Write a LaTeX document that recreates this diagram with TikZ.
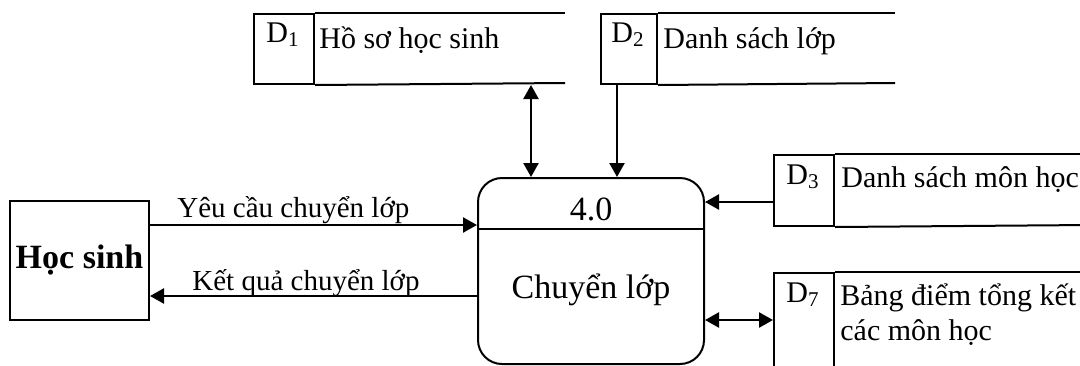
\documentclass[tikz,border=0pt]{standalone}
\usepackage{fontspec}
\setmainfont{Liberation Serif}
\usetikzlibrary{arrows.meta}

\begin{document}
\begin{tikzpicture}
[x=0.5pt,y=-0.5pt,
  boxDecorate/.style={draw,line width=1pt,inner sep=0pt},
  arrowDecorate/.style={-{Triangle[length=7pt,width=7.5pt]},line width=1.2pt},
  dblDecorate/.style={{Triangle[length=7pt,width=7.5pt]}-{Triangle[length=7pt,width=7.5pt]},line width=1.2pt},
  storeText/.style={anchor=base west,inner sep=0pt,align=left,font=\fontsize{15}{17.5}\selectfont},
  idText/.style={anchor=base,inner sep=0pt,font=\fontsize{15}{18}\selectfont},
  flowText/.style={anchor=base west,inner sep=0pt,font=\fontsize{14.5}{17}\selectfont},
  procText/.style={anchor=base,inner sep=0pt,font=\fontsize{17}{20}\selectfont}]
\useasboundingbox (0,0) rectangle (1080,365);
%% external entity
\node (hs) at (79.5,260.5) [boxDecorate,minimum width=69.5pt,minimum height=59.5pt,font=\fontsize{17}{20}\selectfont\bfseries] {Học sinh};
%% process
\node (proc) at (591,271) [boxDecorate,rounded corners=12pt,minimum width=113pt,minimum height=93pt] {};
\draw[line width=1pt] (proc.west |- 0,229) -- (proc.east |- 0,229);
\node (procid) [procText] at (591,220) {4.0};
\node (procname) [procText] at (591,298) {Chuyển lớp};
%% data stores
\foreach \name/\x/\y/\w/\h/\len in {d1/253/13/60/70/565, d2/600/13/56/70/895, d3/773/154/60/71/1090, d7/773/272/60/110/1090}
{
  \node (\name) at (\x,\y) [boxDecorate,anchor=north west,minimum width=\w*0.5pt,minimum height=\h*0.5pt] {};
  \draw[line width=1pt] (\name.north east) -- (\len,\y);
  \draw[line width=1pt] (\name.south east) -- (\len,\y+\h);
}
\node (d1id) [idText] at (283,42) {D\textsubscript{1}};
\node (d1name) [storeText] at (319,48) {Hồ sơ học sinh};
\node (d2id) [idText] at (628,42) {D\textsubscript{2}};
\node (d2name) [storeText] at (663,48) {Danh sách lớp};
\node (d3id) [idText] at (803,184) {D\textsubscript{3}};
\node (d3name) [storeText] at (841,187) {Danh sách môn học};
\node (d7id) [idText] at (803,302) {D\textsubscript{7}};
\node (d7name) [storeText] at (840,340) {Bảng điểm tổng kết\\các môn học};
%% flows
\node (yc) [flowText] at (177,217) {Yêu cầu chuyển lớp};
\node (kq) [flowText] at (192,290) {Kết quả chuyển lớp};
\draw[arrowDecorate] (hs.east |- 0,225) -- (proc.west |- 0,225);
\draw[arrowDecorate] (proc.west |- 0,296) -- (hs.east |- 0,296);
\draw[dblDecorate] (proc.north -| 531,0) -- (d1.south -| 531,0);
\draw[arrowDecorate] (d2.south -| 617,0) -- (proc.north -| 617,0);
\draw[arrowDecorate] (d3.west |- 0,202) -- (proc.east |- 0,202);
\draw[dblDecorate] (proc.east |- 0,320) -- (d7.west |- 0,320);
\end{tikzpicture}
\end{document}
